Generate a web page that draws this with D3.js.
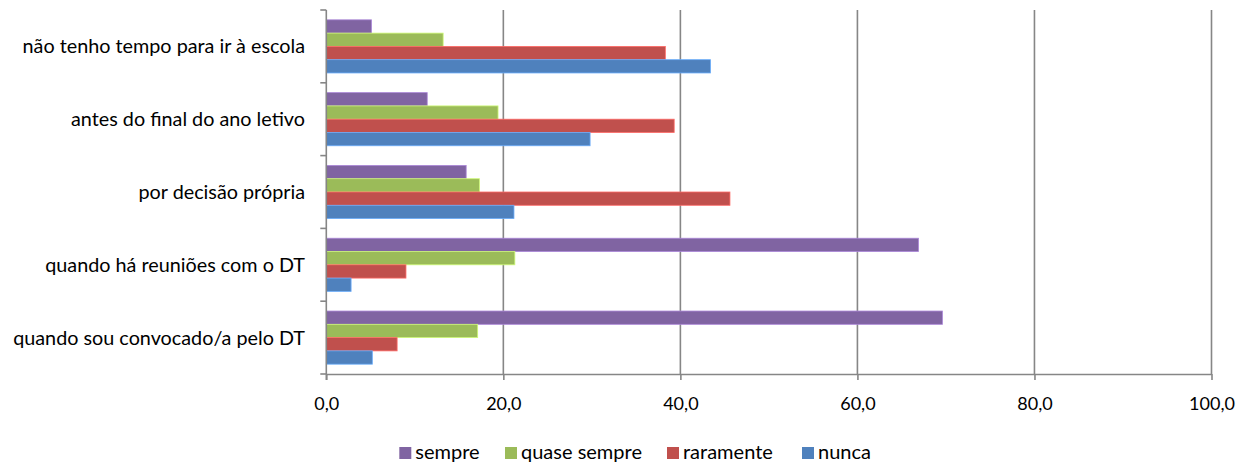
<!DOCTYPE html>
<html>
<head>
<meta charset="utf-8">
<script src="https://cdn.jsdelivr.net/npm/d3@7"></script>
<style>
  html, body { margin: 0; padding: 0; background: #fff; }
  svg { display: block; font-family: Lato, "Open Sans", sans-serif; }
</style>
</head>
<body>
<svg id="chart" width="1246" height="463"></svg>
<script>
// Reasons / situations (top to bottom)
const categories = [
  "não tenho tempo para ir à escola",
  "antes do final do ano letivo",
  "por decisão própria",
  "quando há reuniões com o DT",
  "quando sou convocado/a pelo DT"
];
// Series drawn within each group from top to bottom
const series = ["sempre", "quase sempre", "raramente", "nunca"];
const colors = ["#8064A2", "#9BBB59", "#C0504D", "#4F81BD"];

// Percentages, one array per series, in category order
const sempre      = [5.1, 11.4, 15.8, 66.9, 69.6];
const quaseSempre = [13.2, 19.4, 17.3, 21.3, 17.1];
const raramente   = [38.3, 39.3, 45.6, 9.0, 8.0];
const nunca       = [43.4, 29.8, 21.2, 2.8, 5.2];
const seriesValues = [sempre, quaseSempre, raramente, nunca];

const xTicks = [0, 20, 40, 60, 80, 100];

const svg = d3.select("#chart");
const plotLeft = 326.3, plotRight = 1211.5, plotTop = 10, plotBottom = 374;

const x = d3.scaleLinear().domain([0, 100]).range([plotLeft, plotRight]);
const y = d3.scaleBand().domain(categories).range([plotTop, plotBottom]).padding(0);
const ySub = d3.scaleBand().domain(series).range([0, y.bandwidth()])
  .paddingInner(0).paddingOuter(0.74);

const gridColor = "#868686";

// vertical gridlines
svg.append("g")
  .selectAll("line")
  .data(xTicks.filter(d => d > 0))
  .join("line")
  .attr("x1", d => x(d)).attr("x2", d => x(d))
  .attr("y1", plotTop).attr("y2", plotBottom)
  .attr("stroke", gridColor).attr("stroke-width", 1.6);

// bars
const rows = [];
categories.forEach((c, i) => {
  series.forEach((s, j) => rows.push({ cat: c, ser: s, val: seriesValues[j][i], color: colors[j] }));
});

svg.append("g")
  .selectAll("rect")
  .data(rows)
  .join("rect")
  .attr("x", x(0))
  .attr("y", d => y(d.cat) + ySub(d.ser))
  .attr("width", d => x(d.val) - x(0))
  .attr("height", ySub.bandwidth())
  .attr("fill", d => d.color)
  .attr("stroke", d => d3.color(d.color).brighter(0.8))
  .attr("stroke-width", 0.8);

// x axis
const xAxis = d3.axisBottom(x)
  .tickValues(xTicks)
  .tickSize(6)
  .tickSizeOuter(0)
  .tickFormat(d => d3.format(".1f")(d).replace(".", ","));

const gx = svg.append("g")
  .attr("transform", `translate(0,${plotBottom})`)
  .call(xAxis);
gx.select(".domain").attr("stroke", gridColor).attr("stroke-width", 1.6);
gx.selectAll(".tick line").attr("stroke", gridColor).attr("stroke-width", 1.6);
gx.selectAll(".tick text")
  .attr("y", 36)
  .attr("dy", 0)
  .attr("font-size", 18)
  .attr("fill", "#000")
  .style("font-family", "Lato, sans-serif");

// y axis with ticks at category boundaries
const gy = svg.append("g");
gy.append("line")
  .attr("x1", plotLeft).attr("x2", plotLeft)
  .attr("y1", plotTop).attr("y2", plotBottom + 6)
  .attr("stroke", gridColor).attr("stroke-width", 1.6);
const boundaries = categories.map(c => y(c)).concat([plotBottom]);
gy.selectAll("line.tk")
  .data(boundaries)
  .join("line")
  .attr("class", "tk")
  .attr("x1", plotLeft - 6).attr("x2", plotLeft)
  .attr("y1", d => d).attr("y2", d => d)
  .attr("stroke", gridColor).attr("stroke-width", 1.6);
gy.selectAll("text")
  .data(categories)
  .join("text")
  .attr("x", 305)
  .attr("y", d => y(d) + y.bandwidth() / 2)
  .attr("dy", "0.35em")
  .attr("text-anchor", "end")
  .attr("font-size", 19.8)
  .attr("fill", "#000")
  .text(d => d);

// legend
const legendX = [399.3, 505, 667, 802];
const lg = svg.append("g").attr("transform", "translate(0,459)");
const items = lg.selectAll("g")
  .data(series)
  .join("g")
  .attr("transform", (d, i) => `translate(${legendX[i]},0)`);
items.append("rect")
  .attr("x", 0).attr("y", -12)
  .attr("width", 12).attr("height", 12)
  .attr("fill", (d, i) => colors[i]);
items.append("text")
  .attr("x", 16).attr("y", 0)
  .attr("font-size", 20)
  .attr("fill", "#000")
  .text(d => d);
</script>
</body>
</html>
